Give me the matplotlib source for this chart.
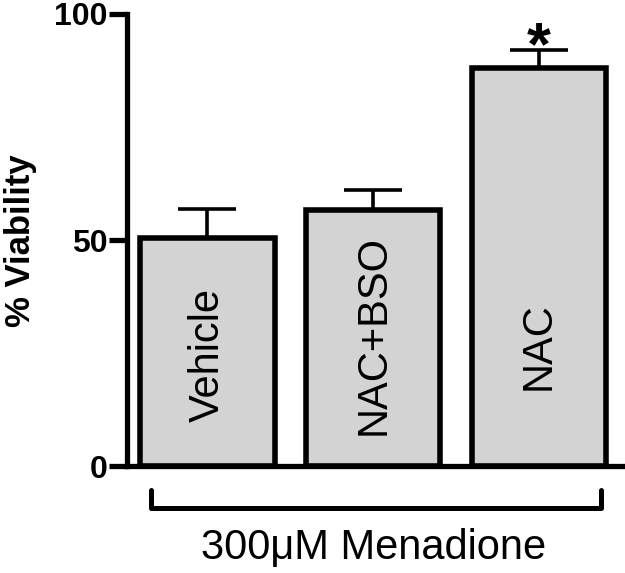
import numpy as np
import matplotlib
matplotlib.use("Agg")
import matplotlib.pyplot as plt

plt.rcParams["font.family"] = ["Liberation Sans", "DejaVu Sans"]

groups = ["Vehicle", "NAC+BSO", "NAC"]
viability = [50.5, 56.7, 88.1]
sem = [6.3, 4.3, 4.0]
yticks = [0, 50, 100]
label_y = [24.6, 29.0, 26.6]

fig = plt.figure(figsize=(6.25, 5.73), dpi=100)
ax = fig.add_axes([0.2032, 0.186, 0.792, 0.7896])

x = np.arange(len(groups))
ax.bar(x, viability, width=0.81, color="#d3d3d3", edgecolor="black", linewidth=4, zorder=2)
ax.errorbar(x, viability, yerr=[np.zeros(len(sem)), sem], fmt="none", ecolor="black",
            elinewidth=2.6, capsize=21, capthick=2.6, zorder=1)

for xi, name, ly in zip(x, groups, label_y):
    ax.text(xi, ly, name, rotation=90, ha="center", va="center", fontsize=30)

# significance star over NAC
ax.text(x[2], viability[2] + sem[2] - 3.2, "*", ha="center", va="baseline",
        fontsize=44, fontweight="bold")

ax.set_xlim(-0.485, 2.5)
ax.set_ylim(0, 100)
ax.set_yticks(yticks)
ax.set_yticklabels([str(t) for t in yticks], fontsize=23, fontweight="bold")
ax.set_xticks([])
ax.tick_params(axis="y", length=13, width=3.8, pad=1)
for s in ["top", "right"]:
    ax.spines[s].set_visible(False)
for s in ["left", "bottom"]:
    ax.spines[s].set_linewidth(3.8)
ax.set_ylabel("% Viability", fontsize=25, fontweight="bold", labelpad=12)

# bracket under the bars
ax.plot([-0.342, -0.342, 2.373, 2.373], [-5.2, -9.2, -9.2, -5.2], color="black",
        linewidth=3.6, clip_on=False, solid_capstyle="round")
ax.text(1.0, -18, "300μM Menadione", ha="center", va="center", fontsize=30, clip_on=False)

fig.savefig("out.png", dpi=100)
